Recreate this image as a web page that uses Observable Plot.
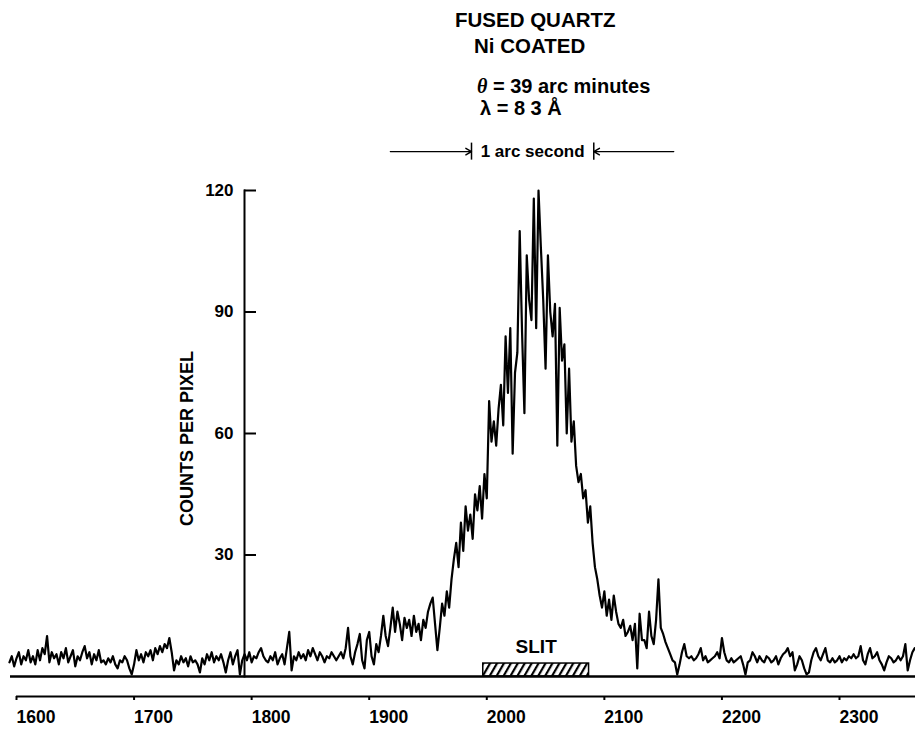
<!DOCTYPE html>
<html><head><meta charset="utf-8">
<script src="https://cdn.jsdelivr.net/npm/d3@7"></script>
<script src="https://cdn.jsdelivr.net/npm/@observablehq/plot@0.6"></script>
<style>
html,body{margin:0;padding:0;background:#fff;}
#wrap{position:relative;width:915px;height:730px;font-family:"Liberation Sans",Arial,Helvetica,sans-serif;font-weight:bold;color:#000;}
#header{position:relative;height:130px;}
.t{position:absolute;white-space:nowrap;line-height:1;font-size:20px;}
#chart svg{display:block;}
</style></head><body>
<div id="wrap">
 <div id="header">
  <div class="t" style="left:455px;top:10px;font-size:20.5px;">FUSED QUARTZ</div>
  <div class="t" style="left:474px;top:36px;font-size:20.5px;">Ni COATED</div>
  <div class="t" style="left:477px;top:76px;"><span style="font-family:'Liberation Serif',serif;font-style:italic;">θ</span> = 39 arc minutes</div>
  <div class="t" style="left:480px;top:98px;">λ = 8 3 Å</div>
 </div>
 <div id="chart"></div>
</div>
<script>
// pixel position along the detector (first sample and spacing)
const xStart = 1594, xStep = 2;
// counts per pixel
const counts = [
 3.5, 5, 2.5, 4.5, 6, 3, 5, 4, 6.5, 3.5,
 5, 3, 6.5, 4, 7, 5.5, 10, 3.5, 6, 4.5,
 5.5, 3, 6, 4.5, 7, 3.5, 5, 6.5, 2.5, 5,
 4, 6, 7.5, 4.5, 6, 3, 5.5, 4, 6.5, 3.5,
 4, 3, 4.5, 3.5, 5, 3, 2, 4, 3.5, 5,
 4, 2, 0.5, 3, 6.5, 4, 5.5, 3.5, 6, 5,
 6.5, 4, 7, 5.5, 7.5, 6, 8, 7, 9.5, 6,
 1.5, 4, 3, 5, 3.5, 4.5, 2.5, 5, 3.5, 4,
 3, 1, 4.5, 3, 5.5, 4, 6, 3.5, 5, 4,
 5.5, 3.5, 1, 4, 6, 3, 5, 6.5, 0.5, 4,
 5.5, 4, 6, 3.5, 5, 4.5, 6, 7, 5, 4,
 3.5, 5, 4, 6, 3, 4.5, 5.5, 3, 7, 11,
 1.5, 5, 4, 6, 4.5, 5.5, 4, 6.5, 5, 7,
 5.5, 4, 6, 5, 3.5, 5, 4.5, 6, 5, 4,
 5, 6, 4.5, 7, 12, 5, 3, 6, 8, 10.5,
 4, 2, 9, 11, 5, 3, 8, 6, 10, 15,
 10, 7.5, 12, 17, 11, 16, 13, 9, 14.5, 12,
 14, 10, 15, 11, 13, 9, 14, 12, 16, 18,
 19.5, 13, 6.5, 12, 18, 15, 21, 17, 24, 29,
 33, 27, 38, 31, 42, 36, 40, 34, 45, 41,
 47, 39, 50, 44, 68, 58, 63, 57, 66, 72,
 62, 84, 70, 86, 55, 75, 80, 110, 85, 65,
 104, 93, 88, 118, 86, 120, 106, 93, 76, 104,
 90, 84, 92, 57, 91, 78, 82, 60, 76, 58,
 63, 52, 48, 50, 44, 46, 38, 42, 33, 27,
 24, 20, 17, 21, 15, 19, 14, 20, 16, 13,
 12, 14, 10, 11, 12.5, 9, 13, 2, 15.5, 9,
 9, 7, 16, 10, 8, 14, 24, 12, 10.5, 8.5,
 7, 5.5, 4, 3.5, 0.5, 3, 6, 8, 5, 4.5,
 5, 4, 4.5, 5.5, 7, 4, 5, 3.5, 4, 4.5,
 5, 6, 4.5, 9.5, 6, 4, 3.5, 4.5, 3.5, 4,
 4.5, 5, 3, 0.5, 3.5, 4, 6, 5, 3.5, 5,
 4, 3.5, 5, 4.5, 3.5, 4, 5, 3, 4.5, 5.5,
 6, 7, 5, 6, 1.5, 3, 5, 4, 2, 0.5,
 1, 4, 6, 7, 5, 4, 5.5, 7, 4, 3.5,
 4.5, 3.5, 4, 5, 3.5, 4.5, 4, 5, 4.5, 5.5,
 4.5, 5, 7.5, 4, 3, 5.5, 7, 4.5, 5, 6,
 4, 3, 1.5, 3.5, 5, 4.5, 3.5, 4, 5, 4,
 5, 8, 1.5, 4, 6, 7
];
const xTicks = [1600, 1700, 1800, 1900, 2000, 2100, 2200, 2300];
const yTicks = [30, 60, 90, 120];
const slitRange = [1997, 2087];
const slitTop = 3.2;
const slitLabel = "SLIT";
const arcSecondBars = [1987, 2091];
const arcSecondArms = [1918, 2159];
const arcSecondLevel = 129.6;
const arcSecondLabel = "1 arc second";
const yLabel = "COUNTS PER PIXEL";

const trace = counts.map((c, i) => ({x: xStart + i * xStep, y: c}));
const arms = [
  {x1: arcSecondArms[0], x2: arcSecondBars[0]},
  {x1: arcSecondArms[1], x2: arcSecondBars[1]}
];

const W = 915, H = 600, ML = 244;
const font = '"Liberation Sans", Arial, Helvetica, sans-serif';

const svg = Plot.plot({
  width: W, height: H,
  marginLeft: ML, marginRight: 0, marginTop: 60, marginBottom: 54,
  x: {domain: [1600, 2300], range: [16, 839], axis: null},
  y: {domain: [0, 120], axis: null},
  style: {fontFamily: font, fontWeight: "bold", fontSize: "17px", color: "black", background: "white"},
  marks: [
    Plot.rect([slitRange], {x1: d => d[0], x2: d => d[1], y1: 0, y2: slitTop, fill: "url(#hatch)", stroke: "black", strokeWidth: 1.5}),
    Plot.line(trace, {x: "x", y: "y", stroke: "black", strokeWidth: 2.2}),
    Plot.frame({anchor: "left", strokeWidth: 2}),
    Plot.ruleY(yTicks, {insetRight: W - ML - 12, strokeWidth: 2}),
    Plot.axisY(yTicks, {anchor: "left", tickSize: 0, tickPadding: 11, fontSize: 17, tickFormat: d => String(d), label: null}),
    Plot.ruleY([0], {insetLeft: -(ML - 10), strokeWidth: 2.5}),
    Plot.ruleY([0], {insetLeft: -(ML - 16), dy: 20, strokeWidth: 2}),
    Plot.axisX(xTicks, {anchor: "bottom", tickSize: 4, tickPadding: 10, dy: 20, textAnchor: "start", fontSize: 17.5, strokeWidth: 2, tickFormat: d => String(d), label: null}),
    Plot.text([slitLabel], {x: (slitRange[0] + slitRange[1]) / 2, y: slitTop, dy: -17, fontSize: 19}),
    Plot.text([yLabel], {frameAnchor: "left", textAnchor: "middle", rotate: -90, dx: -57, dy: 5, fontSize: 18}),
    Plot.arrow(arms, {x1: "x1", x2: "x2", y1: arcSecondLevel, y2: arcSecondLevel, headLength: 7, strokeWidth: 1.4}),
    Plot.ruleX(arcSecondBars, {y1: arcSecondLevel - 2.1, y2: arcSecondLevel + 2.1, strokeWidth: 1.5}),
    Plot.text([arcSecondLabel], {x: (arcSecondBars[0] + arcSecondBars[1]) / 2, y: arcSecondLevel, fontSize: 17})
  ]
});

d3.select(svg).insert("defs", ":first-child").html(
  '<pattern id="hatch" patternUnits="userSpaceOnUse" width="6" height="6" patternTransform="rotate(30)">' +
  '<rect width="6" height="6" fill="white"/><line x1="1" y1="0" x2="1" y2="6" stroke="black" stroke-width="2.4"/></pattern>'
);
document.getElementById("chart").appendChild(svg);
</script>
</body></html>
